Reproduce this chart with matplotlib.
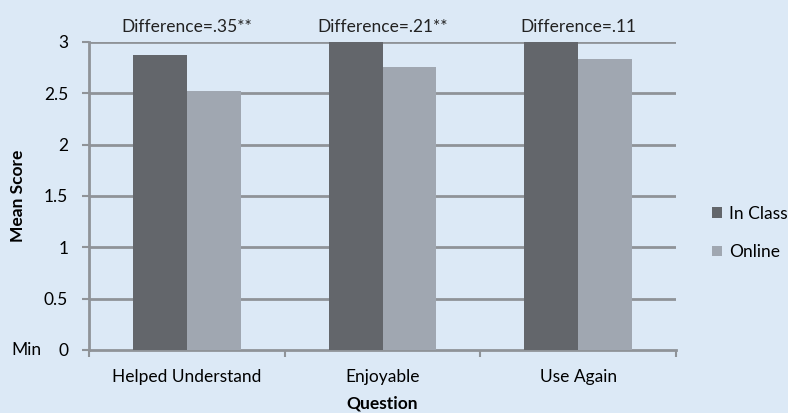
import numpy as np
import matplotlib
matplotlib.use("Agg")
import matplotlib.pyplot as plt

plt.rcParams['font.family'] = ['Lato', 'DejaVu Sans']

questions = ["Helped Understand", "Enjoyable", "Use Again"]
in_class = [2.87, 3.0, 3.0]
online = [2.52, 2.76, 2.83]
diff_labels = ["Difference=.35**", "Difference=.21**", "Difference=.11"]
y_ticks = [0, 0.5, 1, 1.5, 2, 2.5, 3]
y_tick_labels = ["0", "0.5", "1", "1.5", "2", "2.5", "3"]

bg = "#dce9f6"
grid_c = "#8f9398"
dark = "#63666b"
light = "#a0a7b1"
fs = 12.5

fig = plt.figure(figsize=(7.88, 4.13), dpi=100, facecolor=bg)
ax = fig.add_axes([89 / 788, 1 - 350 / 413, (676 - 89) / 788, (350 - 42) / 413])
ax.set_facecolor(bg)

x = np.arange(len(questions))
w = 0.275
ax.bar(x - w / 2, in_class, w, color=dark, label="In Class", zorder=3)
ax.bar(x + w / 2, online, w, color=light, label="Online", zorder=3)

ax.set_xlim(-0.5, 2.5)
ax.set_ylim(0, 3)
ax.set_yticks(y_ticks)
ax.set_yticklabels(y_tick_labels, fontsize=fs)
for yv in y_ticks[1:]:
    ax.axhline(yv, color=grid_c, lw=2, zorder=1)

ax.set_xticks([-0.5, 0.5, 1.5, 2.5])
ax.set_xticklabels([])
ax.set_xticks(x, minor=True)
ax.set_xticklabels(questions, minor=True, fontsize=fs)
ax.tick_params(axis='x', which='minor', length=0, pad=14)
ax.tick_params(axis='x', which='major', length=5, width=1.5, color=grid_c)
ax.tick_params(axis='y', length=5, width=1.5, color=grid_c, pad=10)

for s in ["top", "right"]:
    ax.spines[s].set_visible(False)
for s in ["left", "bottom"]:
    ax.spines[s].set_color(grid_c)
    ax.spines[s].set_linewidth(2)

for i, t in enumerate(diff_labels):
    ax.text(x[i], 3.07, t, ha='center', va='bottom', fontsize=fs, color="#222222")

ax.text(-0.107, 0, "Min", transform=ax.get_yaxis_transform(), ha='center', va='center', fontsize=fs)

ax.set_ylabel("Mean Score", fontsize=fs, fontweight='bold')
ax.yaxis.set_label_coords(-0.107, 0.5)
ax.set_xlabel("Question", fontsize=fs, fontweight='bold')
ax.xaxis.set_label_coords(0.5, -0.148)

ax.legend(loc='center left', bbox_to_anchor=(1.035, 0.38), frameon=False,
          handlelength=0.55, handleheight=0.55, handletextpad=0.4, labelspacing=1.3,
          fontsize=fs)

fig.savefig("out.png", dpi=100, facecolor=bg)
